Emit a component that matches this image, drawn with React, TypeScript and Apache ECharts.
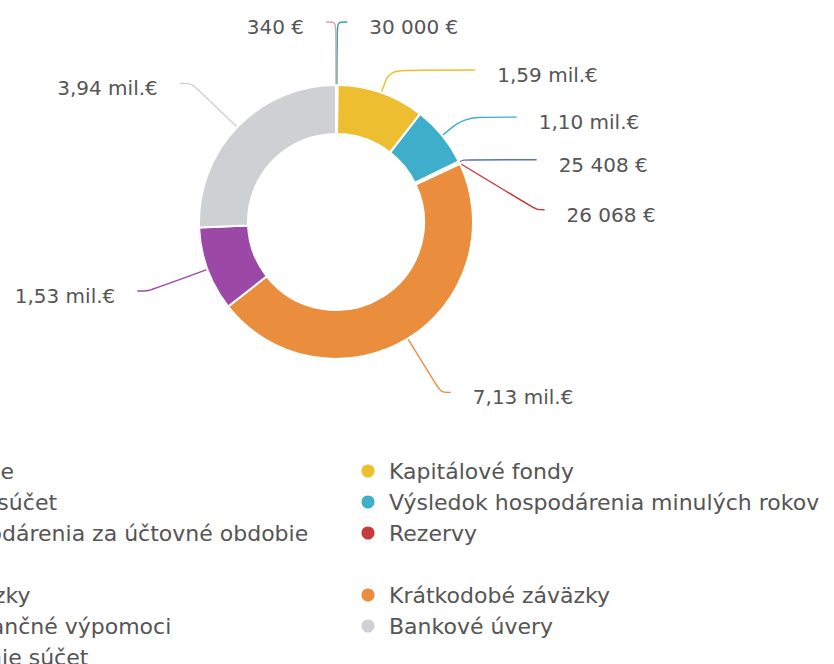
import React, { useEffect, useRef } from 'react';
import * as echarts from 'echarts';

// ---- data ----
const categories = [
  'Základné imanie',
  'Kapitálové fondy',
  'Fondy zo zisku súčet',
  'Výsledok hospodárenia minulých rokov',
  'Výsledok hospodárenia za účtovné obdobie',
  'Rezervy',
  'Dlhodobé záväzky',
  'Krátkodobé záväzky',
  'Krátkodobé finančné výpomoci',
  'Bankové úvery',
  'Časové rozlíšenie súčet',
];
const values = [30000, 1590000, 0, 1100000, 25408, 26068, 0, 7130000, 1530000, 3940000, 340];

const legendEquityLeft = ['Základné imanie', 'Fondy zo zisku súčet', 'Výsledok hospodárenia za účtovné obdobie'];
const legendEquityRight = ['Kapitálové fondy', 'Výsledok hospodárenia minulých rokov', 'Rezervy'];
const legendLiabLeft = ['Dlhodobé záväzky', 'Krátkodobé finančné výpomoci', 'Časové rozlíšenie súčet'];
const legendLiabRight = ['Krátkodobé záväzky', 'Bankové úvery'];

// ---- styles ----
const palette = [
  '#3a9e9a', '#edbe2f', '#8fb04a', '#3eaecb', '#5b6fc4', '#c63a3c',
  '#7a7a7a', '#ea8d3d', '#9c48a6', '#cfd0d4', '#c9a6b6',
];
// leader line [length, length2] per item
const leader: [number, number][] = [
  [63, 10], [24, 86], [0, 0], [29, 52], [5, 73], [85, 8], [0, 0], [63, 10], [63, 11], [63, 12], [63, 10],
];
const TEXT = '#555555';
const FONT = 'DejaVu Sans';

function fmt(v: number): string {
  if (v >= 1000000) return (v / 1000000).toFixed(2).replace('.', ',') + ' mil.€';
  return String(v).replace(/\B(?=(\d{3})+(?!\d))/g, ' ') + ' €';
}

export default function App() {
  const ref = useRef<HTMLDivElement>(null);
  useEffect(() => {
    if (!ref.current) return;
    const chart = echarts.init(ref.current, undefined, { renderer: 'svg' });
    const legendBase = {
      orient: 'vertical',
      icon: 'circle',
      itemWidth: 32,
      itemHeight: 15,
      itemGap: 9,
      padding: 0,
      height: 120,
      selectedMode: false,
      textStyle: { fontSize: 22, lineHeight: 22, color: TEXT, fontFamily: FONT },
    };
    const shiftIdx = categories.indexOf('Rezervy');
    const baseRich = { fontSize: 20, lineHeight: 20, color: TEXT, fontFamily: FONT };
    chart.setOption({
      animation: false,
      color: palette,
      textStyle: { fontFamily: FONT },
      legend: [
        { ...legendBase, left: -199.5, top: 460, data: legendEquityLeft },
        { ...legendBase, left: 359.5, top: 460, data: legendEquityRight },
        { ...legendBase, left: -199.5, top: 584, data: legendLiabLeft },
        { ...legendBase, left: 359.5, top: 584, data: legendLiabRight },
      ],
      series: [
        {
          type: 'pie',
          center: [336, 222],
          radius: [88, 137],
          startAngle: 90,
          clockwise: true,
          avoidLabelOverlap: false,
          itemStyle: { borderColor: '#ffffff', borderWidth: 2 },
          label: {
            show: true,
            position: 'outer',
            color: TEXT,
            fontFamily: FONT,
            fontSize: 20,
            distanceToLabelLine: 22,
            formatter: (p: any) => `{v|${fmt(p.value)}}`,
            rich: { v: { ...baseRich, padding: [10, 0, 0, 0] } },
          },
          labelLine: { show: true, smooth: 0.3, lineStyle: { width: 1.4 } },
          labelLayout: (p: any) =>
            p.dataIndex === shiftIdx
              ? { y: p.labelRect.y + p.labelRect.height / 2 + 83 }
              : {},
          emphasis: { disabled: true },
          data: categories.map((name, i) => {
            const hidden = values[i] === 0;
            const shifted = i === shiftIdx;
            return {
              name,
              value: values[i],
              label: shifted
                ? {
                    show: true,
                    distanceToLabelLine: 0,
                    rich: { v: { ...baseRich, padding: [10, 0, 0, 22] } },
                  }
                : { show: !hidden },
              labelLine: { show: !hidden, length: leader[i][0], length2: leader[i][1] },
            };
          }),
        },
      ],
    });
    return () => chart.dispose();
  }, []);
  return (
    <div
      ref={ref}
      style={{ position: 'fixed', left: 0, top: 0, width: 834, height: 664, background: '#ffffff' }}
    />
  );
}
